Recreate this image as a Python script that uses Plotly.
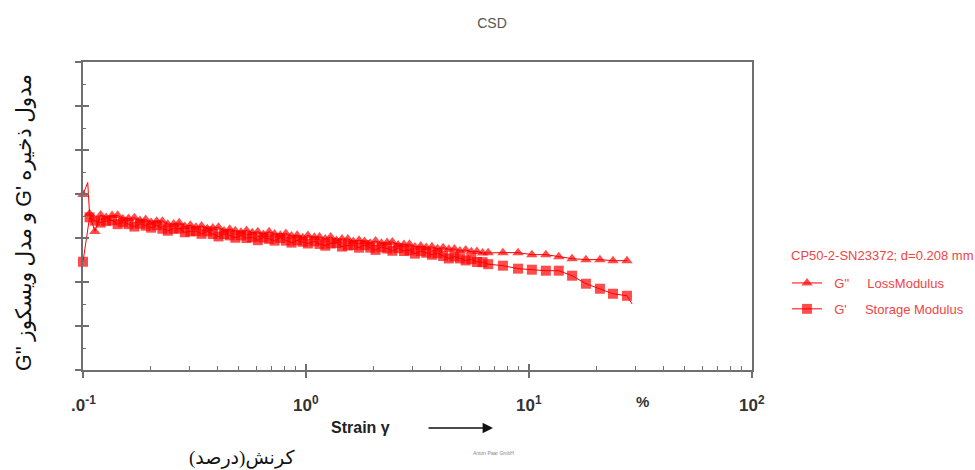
import math
import plotly.graph_objects as go

# ---------------- data (strain in %, moduli in arbitrary chart units) ----------------
strain_start_loss = [0.1, 0.105]
loss_start = [3.99, 4.26]
strain_start_storage = [0.1]
storage_start = [2.46]

strain_dense = [0.107, 0.113, 0.120, 0.127, 0.135, 0.143, 0.151, 0.160, 0.170, 0.180,
                0.191, 0.202, 0.214, 0.227, 0.240, 0.255, 0.270, 0.286, 0.303, 0.321,
                0.340, 0.361, 0.382, 0.405, 0.429, 0.455, 0.482, 0.511, 0.541, 0.574,
                0.608, 0.644, 0.683, 0.723, 0.767, 0.812, 0.861, 0.912, 0.967, 1.02,
                1.09, 1.15, 1.22, 1.29, 1.37, 1.45, 1.54, 1.63, 1.73, 1.83,
                1.94, 2.05, 2.18, 2.31, 2.44, 2.59, 2.75, 2.91, 3.08, 3.27,
                3.46, 3.67, 3.89, 4.12, 4.37, 4.63, 4.90, 5.20, 5.51, 5.84,
                6.19, 6.56]
loss_dense = [3.55, 3.15, 3.52, 3.465, 3.51, 3.515, 3.43, 3.445, 3.46, 3.395,
              3.42, 3.355, 3.38, 3.38, 3.315, 3.32, 3.345, 3.26, 3.29, 3.245,
              3.275, 3.21, 3.23, 3.245, 3.16, 3.20, 3.165, 3.13, 3.17, 3.12,
              3.14, 3.08, 3.14, 3.09, 3.06, 3.10, 3.045, 3.065, 3.005, 3.055,
              3.015, 3.025, 2.975, 3.025, 2.945, 2.975, 2.98, 2.92, 2.95, 2.92,
              2.88, 2.93, 2.88, 2.90, 2.91, 2.84, 2.855, 2.86, 2.795, 2.82,
              2.785, 2.80, 2.755, 2.78, 2.745, 2.75, 2.705, 2.73, 2.69, 2.695,
              2.66, 2.665]
storage_dense = [3.47, 3.395, 3.35, 3.385, 3.40, 3.315, 3.36, 3.315, 3.26, 3.325,
                 3.28, 3.235, 3.29, 3.21, 3.165, 3.21, 3.215, 3.13, 3.15, 3.155,
                 3.095, 3.15, 3.09, 3.035, 3.09, 3.06, 3.005, 3.06, 3.00, 3.02,
                 2.95, 3.01, 2.98, 2.94, 3.00, 2.94, 2.895, 2.945, 2.915, 2.875,
                 2.925, 2.865, 2.825, 2.875, 2.885, 2.805, 2.83, 2.84, 2.78, 2.84,
                 2.78, 2.73, 2.79, 2.76, 2.71, 2.77, 2.705, 2.72, 2.645, 2.70,
                 2.665, 2.62, 2.655, 2.59, 2.535, 2.58, 2.535, 2.49, 2.52, 2.455,
                 2.45, 2.405]

strain_sparse = [7.64, 8.93, 10.3, 11.9, 13.6, 15.6, 18.0, 20.8, 23.8, 27.5]
loss_sparse = [2.667, 2.667, 2.622, 2.622, 2.576, 2.531, 2.508, 2.508, 2.485, 2.485]
storage_sparse = [2.371, 2.303, 2.280, 2.257, 2.257, 2.143, 1.961, 1.847, 1.733, 1.687]

strain_end_storage = [29.0]
storage_end = [1.50]

x_major = [0.1, 1, 10, 100]
x_major_labels = [".0<sup>-1</sup>", "10<sup>0</sup>", "10<sup>1</sup>", "10<sup>2</sup>"]
x_minor = [0.2, 0.3, 0.4, 0.5, 0.6, 0.7, 0.8, 0.9, 2, 3, 4, 5, 6, 7, 8, 9,
           20, 30, 40, 50, 60, 70, 80, 90]
y_major = [0, 1, 2, 3, 4, 5, 6, 7]
y_minor = [0.5, 1.5, 2.5, 3.5, 4.5, 5.5, 6.5]

# ---------------- assemble ----------------
loss_x = strain_start_loss + strain_dense + strain_sparse
loss_y = loss_start + loss_dense + loss_sparse
loss_sizes = [10, 0] + [10] * (len(strain_dense) + len(strain_sparse))

stor_x = strain_start_storage + strain_dense + strain_sparse + strain_end_storage
stor_y = storage_start + storage_dense + storage_sparse + storage_end
stor_sizes = [10] * (len(stor_x) - 1) + [0]

RED = "#ff0000"
LEG = "#f04444"
AX = "#6f6f6f"
NB = "\u00a0"

# layout helpers (pixel -> paper)
L, R, T, B = 83, 752, 62, 370
def px(x):
    return (x - L) / (R - L)
def py(y):
    return (B - y) / (B - T)

fig = go.Figure()
fig.add_trace(go.Scatter(
    x=loss_x, y=loss_y, mode="lines+markers", cliponaxis=False,
    name=NB * 2 + "G''" + NB * 5 + "LossModulus", legendgroup="a",
    line=dict(color=RED, width=1),
    marker=dict(symbol="triangle-up", size=loss_sizes, color=RED, line=dict(width=0)),
))
fig.add_trace(go.Scatter(
    x=stor_x, y=stor_y, mode="lines+markers", cliponaxis=False,
    name=NB * 2 + "G'" + NB * 5 + "Storage Modulus", legendgroup="b",
    line=dict(color=RED, width=1),
    marker=dict(symbol="square", size=stor_sizes, color=RED, line=dict(width=0)),
))
# empty trace that carries the overlay axes (inside half of crossing ticks)
fig.add_trace(go.Scatter(x=[], y=[], xaxis="x2", yaxis="y2", showlegend=False, hoverinfo="skip"))

fig.update_layout(
    width=975, height=470,
    margin=dict(l=L, r=975 - R, t=T, b=470 - B, autoexpand=False),
    paper_bgcolor="white", plot_bgcolor="white",
    font=dict(family="Liberation Sans, Arial, sans-serif", color="#333"),
    title=dict(text="CSD", x=492 / 975, xref="container", xanchor="center",
               y=1 - 23 / 470, yref="container", yanchor="middle",
               font=dict(size=14, color="#555")),
    xaxis=dict(type="log", range=[-1, 2], showgrid=False, zeroline=False,
               showline=True, linecolor=AX, linewidth=2, mirror=True,
               ticks="outside", ticklen=6, tickwidth=1.5, tickcolor=AX,
               tickvals=x_major, showticklabels=False,
               minor=dict(ticks="inside", ticklen=4, tickwidth=1, tickcolor=AX,
                          tickvals=x_minor, showgrid=False)),
    yaxis=dict(range=[0, 7], showgrid=False, zeroline=False,
               showline=True, linecolor=AX, linewidth=2, mirror=True,
               ticks="outside", ticklen=6, tickwidth=1.5, tickcolor=AX,
               tickvals=y_major, showticklabels=False,
               minor=dict(ticks="inside", ticklen=3, tickwidth=1, tickcolor=AX,
                          tickvals=y_minor, showgrid=False)),
    xaxis2=dict(type="log", range=[-1, 2], overlaying="x", anchor="y2",
                showgrid=False, zeroline=False, showline=False,
                ticks="inside", ticklen=6, tickwidth=1.5, tickcolor=AX,
                tickvals=x_major, showticklabels=False),
    yaxis2=dict(range=[0, 7], overlaying="y", anchor="x2",
                showgrid=False, zeroline=False, showline=False,
                ticks="inside", ticklen=6, tickwidth=1.5, tickcolor=AX,
                tickvals=y_major, showticklabels=False),
    showlegend=True,
    legend=dict(x=px(787), xanchor="left", y=py(268), yanchor="top",
                bgcolor="rgba(0,0,0,0)", borderwidth=0,
                font=dict(size=13, color=LEG, family="Liberation Sans, Arial"),
                tracegroupgap=6, itemwidth=30),
)

annotations = []
# legend caption
annotations.append(dict(x=px(789), xref="paper", xanchor="left", y=py(255), yref="paper",
                        text="CP50-2-SN23372; d=0.208 mm", showarrow=False,
                        font=dict(size=13, color=LEG)))
# x tick labels
for v, t in zip(x_major, x_major_labels):
    annotations.append(dict(x=math.log10(v), xref="x", y=py(404), yref="paper",
                            text="<b>" + t + "</b>", showarrow=False, xanchor="center",
                            yanchor="middle", font=dict(size=17, color="#333")))
annotations.append(dict(x=px(651), xref="paper", y=py(412), yref="paper",
                        text="<b>%</b>", showarrow=False, font=dict(size=15, color="#333")))
# x axis title
annotations.append(dict(x=px(360), xref="paper", y=py(438), yref="paper",
                        text="<b>Strain γ</b>", showarrow=False,
                        font=dict(size=16, color="#222")))
annotations.append(dict(x=px(493), xref="paper", y=py(428), yref="paper",
                        ax=-66, ay=0, text="", showarrow=True, arrowhead=2, arrowsize=1.3,
                        arrowwidth=1.6, arrowcolor="#111"))
annotations.append(dict(x=px(187), xref="paper", y=py(471), yref="paper",
                        text="کرنش(درصد)", showarrow=False,
                        font=dict(size=19, color="#111", family="Liberation Serif, DejaVu Serif, DejaVu Sans")))
annotations.append(dict(x=px(493), xref="paper", y=py(458), yref="paper",
                        text="Anton Paar GmbH", showarrow=False,
                        font=dict(size=5, color="#888")))
# y axis title (rotated)
annotations.append(dict(x=px(10), xref="paper", y=py(223), yref="paper",
                        textangle=-90, showarrow=False,
                        text="<span style=\"font-family:Liberation Sans\">G''</span> و مدل ویسکوز "
                             "<span style=\"font-family:Liberation Sans\">G'</span> مدول ذخیره",
                        font=dict(size=21.5, color="#111", family="Liberation Serif, DejaVu Serif, DejaVu Sans")))
fig.update_layout(annotations=annotations)

fig.write_html("out.html", config={"displayModeBar": False},
               post_script="document.body.style.margin='0px';")
